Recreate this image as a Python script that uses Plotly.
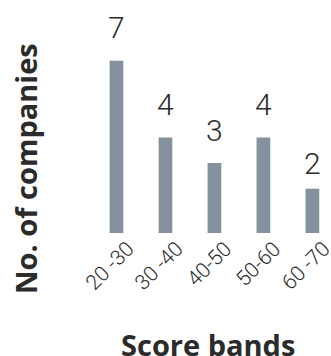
import plotly.graph_objects as go

categories = ["20 -30", "30 -40", "40-50", "50-60", "60 -70"]
companies = [7, 4, 3, 4, 2]
x_title = "Score bands"
y_title = "No. of companies"

BAR_COLOR = "#85919e"
TEXT_COLOR = "#2b2b2b"
LIGHT_FONT = "Roboto, Open Sans"
LABEL_GAP = [14, 14, 13, 14, 6]  # pixel gap of value labels above bars

fig = go.Figure()
fig.add_trace(go.Bar(
    x=list(range(len(categories))),
    y=companies,
    marker=dict(color=BAR_COLOR, line=dict(width=0)),
    width=0.28,
    hoverinfo="skip",
    cliponaxis=False,
))

for i, v in enumerate(companies):
    fig.add_annotation(
        x=i, y=v, text=str(v), showarrow=False,
        yanchor="bottom", yshift=LABEL_GAP[i],
        font=dict(family=LIGHT_FONT, size=30, color=TEXT_COLOR, weight=300),
    )

# rotated category labels under the bars
for i, c in enumerate(categories):
    fig.add_annotation(
        x=i, xref="x", y=0, yref="paper", text=c, showarrow=False,
        textangle=-45, xanchor="right", yanchor="top",
        xshift=25, yshift=-1,
        font=dict(family=LIGHT_FONT, size=21, color=TEXT_COLOR, weight=300),
    )

fig.add_annotation(
    xref="paper", yref="paper", x=0, y=0, xanchor="center", yanchor="middle",
    xshift=115.5, yshift=-111, showarrow=False, text=x_title,
    font=dict(family="Open Sans", size=29, color=TEXT_COLOR, weight=700),
)
fig.add_annotation(
    xref="paper", yref="paper", x=0, y=0, xanchor="center", yanchor="middle",
    xshift=-67, yshift=64, showarrow=False, text=y_title, textangle=-90,
    font=dict(family="Open Sans", size=29, color=TEXT_COLOR, weight=700),
)

fig.update_layout(
    width=331, height=356,
    margin=dict(l=92, r=0, t=10, b=123),
    paper_bgcolor="white", plot_bgcolor="white",
    showlegend=False,
    xaxis=dict(
        automargin=False,
        range=[-0.5, 4.38],
        showticklabels=False,
        showgrid=False, zeroline=False, showline=False, ticks="",
    ),
    yaxis=dict(
        automargin=False,
        range=[0.27, 8.98],
        showgrid=False, zeroline=False, showline=False,
        showticklabels=False, ticks="",
    ),
)

fig.write_html("out.html", config={"displayModeBar": False},
               post_script="document.body.style.margin='0';")
